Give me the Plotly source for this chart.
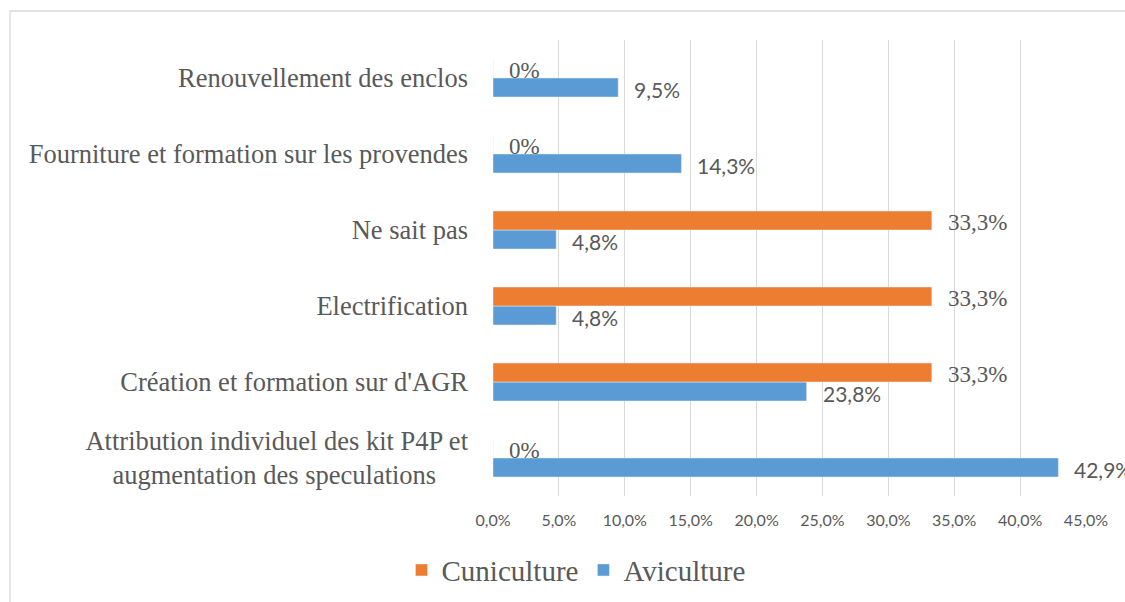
import plotly.graph_objects as go

categories = [
    "Attribution individuel des kit P4P et<br>augmentation des speculations\u00a0\u00a0\u00a0\u00a0\u2009",
    "Création et formation sur d'AGR",
    "Electrification",
    "Ne sait pas",
    "Fourniture et formation sur les provendes",
    "Renouvellement des enclos",
]
aviculture = [42.9, 23.8, 4.8, 4.8, 14.3, 9.5]
cuniculture = [0, 33.3, 33.3, 33.3, 0, 0]

BLUE = "#5B9BD5"
ORANGE = "#ED7D31"
GREY = "#595959"


def fmt(v):
    return "0%" if v == 0 else f"{v:.1f}".replace(".", ",") + "%"


fig = go.Figure()
fig.add_trace(go.Bar(name="Aviculture", y=categories, x=aviculture, orientation="h",
                     marker=dict(color=BLUE), hoverinfo="skip"))
fig.add_trace(go.Bar(name="Cuniculture", y=categories, x=cuniculture, orientation="h",
                     marker=dict(color=ORANGE), hoverinfo="skip"))

annotations = []
for c, v in zip(categories, aviculture):
    annotations.append(dict(x=v, y=c, xref="x", yref="y", text=fmt(v), showarrow=False,
                            xanchor="left", yanchor="middle", xshift=14, yshift=-11,
                            font=dict(family="Lato", size=21, color=GREY)))
for c, v in zip(categories, cuniculture):
    annotations.append(dict(x=v, y=c, xref="x", yref="y", text=fmt(v), showarrow=False,
                            xanchor="left", yanchor="middle", xshift=14, yshift=8,
                            font=dict(family="Liberation Serif", size=23, color=GREY)))

fig.update_layout(
    width=1125, height=602,
    margin=dict(l=493, r=39, t=40, b=106),
    paper_bgcolor="white", plot_bgcolor="white",
    barmode="group", bargap=0.5, bargroupgap=0,
    separators=",.",
    showlegend=True,
    legend=dict(orientation="h", traceorder="reversed",
                xref="container", yref="container", x=0.512, xanchor="center",
                y=0.053, yanchor="middle",
                font=dict(family="Liberation Serif", size=29, color=GREY),
                itemwidth=30, bgcolor="rgba(0,0,0,0)"),
    annotations=annotations,
    shapes=[dict(type="rect", xref="paper", yref="paper",
                 x0=-0.8145, x1=1.1, y0=-0.28, y1=1.0636,
                 line=dict(color="#D9D9D9", width=1.3), fillcolor="rgba(0,0,0,0)", layer="below")],
    xaxis=dict(range=[0, 45], dtick=5, tick0=0, tickformat=".1f", ticksuffix="%",
               showgrid=True, gridcolor="#D9D9D9", gridwidth=1.3, zeroline=False,
               showline=False, ticks="", ticklabelstandoff=13,
               tickfont=dict(family="Lato", size=16, color=GREY)),
    yaxis=dict(showgrid=False, zeroline=False, showline=False, ticks="",
               ticklabelstandoff=24,
               tickfont=dict(family="Liberation Serif", size=26.5, color=GREY)),
)

fig.write_html(
    "out.html",
    config={"displayModeBar": False},
    post_script="document.body.style.margin='0';document.body.style.overflow='hidden';",
)
